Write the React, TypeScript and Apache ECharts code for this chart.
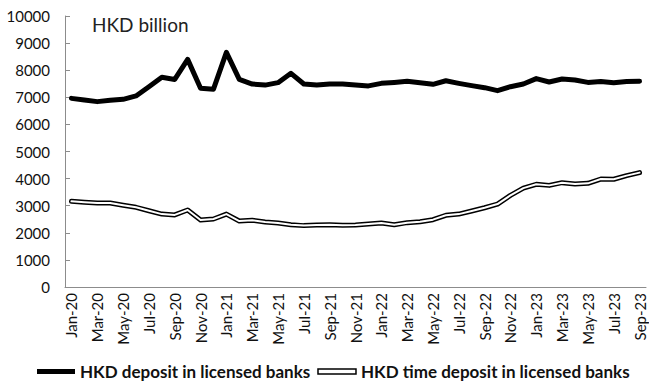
import React, { useEffect, useRef } from "react";
import * as echarts from "echarts";

const months = [
  "Jan-20","Feb-20","Mar-20","Apr-20","May-20","Jun-20","Jul-20","Aug-20","Sep-20","Oct-20","Nov-20","Dec-20",
  "Jan-21","Feb-21","Mar-21","Apr-21","May-21","Jun-21","Jul-21","Aug-21","Sep-21","Oct-21","Nov-21","Dec-21",
  "Jan-22","Feb-22","Mar-22","Apr-22","May-22","Jun-22","Jul-22","Aug-22","Sep-22","Oct-22","Nov-22","Dec-22",
  "Jan-23","Feb-23","Mar-23","Apr-23","May-23","Jun-23","Jul-23","Aug-23","Sep-23",
];

const hkdDeposit = [
  6960, 6900, 6840, 6890, 6925, 7050, 7390, 7740, 7660, 8400, 7330, 7300,
  8660, 7660, 7490, 7450, 7540, 7885, 7490, 7450, 7490, 7490, 7450, 7420,
  7515, 7550, 7590, 7540, 7480, 7610, 7515, 7430, 7355, 7245, 7390, 7490,
  7690, 7565, 7675, 7640, 7550, 7580, 7540, 7580, 7590,
];

const hkdTimeDeposit = [
  3160, 3125, 3100, 3100, 3015, 2940, 2815, 2690, 2660, 2840, 2470, 2510,
  2690, 2435, 2460, 2400, 2360, 2300, 2265, 2290, 2300, 2275, 2290, 2325,
  2360, 2300, 2375, 2410, 2485, 2645, 2690, 2805, 2925, 3060, 3380, 3650,
  3790, 3750, 3850, 3800, 3825, 3985, 3975, 4110, 4220,
];

const seriesNames = ["HKD deposit in licensed banks", "HKD time deposit in licensed banks"];
const unitLabel = "HKD billion";

const FONT = "Lato, 'Liberation Sans', sans-serif";
const AXIS_GREY = "#8c8c8c";

export default function App() {
  const ref = useRef<HTMLDivElement>(null);

  useEffect(() => {
    if (!ref.current) return;
    const chart = echarts.init(ref.current, undefined, { renderer: "svg" });
    chart.setOption({
      animation: false,
      textStyle: { fontFamily: FONT },
      grid: { left: 65, right: 3, top: 16, bottom: 96, containLabel: false },
      graphic: [
        {
          type: "text",
          left: 92,
          top: 15,
          style: { text: unitLabel, fontFamily: FONT, fontSize: 19, fill: "#222" },
        },
      ],
      legend: {
        left: 37,
        top: 363,
        padding: 0,
        itemWidth: 38,
        itemHeight: 5,
        itemGap: 7,
        textStyle: { fontFamily: FONT, fontSize: 17, fontWeight: "bold", color: "#111" },
        data: [
          { name: seriesNames[0], icon: "rect", itemStyle: { color: "#000" } },
          {
            name: seriesNames[1],
            icon: "rect",
            itemStyle: { color: "#fff", borderColor: "#000", borderWidth: 1.5 },
          },
        ],
      },
      xAxis: {
        type: "category",
        data: months,
        boundaryGap: true,
        axisLine: { lineStyle: { color: AXIS_GREY, width: 1 } },
        axisTick: { interval: 1, length: 5, lineStyle: { color: AXIS_GREY } },
        axisLabel: {
          interval: 1,
          rotate: 90,
          fontSize: 15,
          color: "#111",
          fontFamily: FONT,
          margin: 6,
        },
        splitLine: { show: false },
      },
      yAxis: {
        type: "value",
        min: 0,
        max: 10000,
        interval: 1000,
        axisLine: { show: true, lineStyle: { color: AXIS_GREY, width: 1 } },
        axisTick: { show: true, inside: true, length: 5, lineStyle: { color: AXIS_GREY } },
        axisLabel: {
          fontSize: 15,
          color: "#111",
          fontFamily: FONT,
          margin: 15,
          formatter: (v: number) => String(v),
        },
        splitLine: { show: false },
      },
      series: [
        {
          name: seriesNames[0],
          type: "line",
          data: hkdDeposit,
          showSymbol: false,
          lineStyle: { color: "#000", width: 5, cap: "round", join: "round" },
          itemStyle: { color: "#000" },
        },
        {
          name: seriesNames[1],
          type: "line",
          data: hkdTimeDeposit,
          showSymbol: false,
          lineStyle: { color: "#000", width: 5, cap: "round", join: "round" },
          itemStyle: { color: "#fff" },
        },
        {
          name: "time-deposit-core",
          type: "line",
          data: hkdTimeDeposit,
          showSymbol: false,
          lineStyle: { color: "#fff", width: 2, cap: "round", join: "round" },
          itemStyle: { color: "#fff" },
        },
      ],
    });
    return () => chart.dispose();
  }, []);

  return <div ref={ref} style={{ width: 649, height: 383, position: "absolute", left: 0, top: 0, background: "#fff" }} />;
}
